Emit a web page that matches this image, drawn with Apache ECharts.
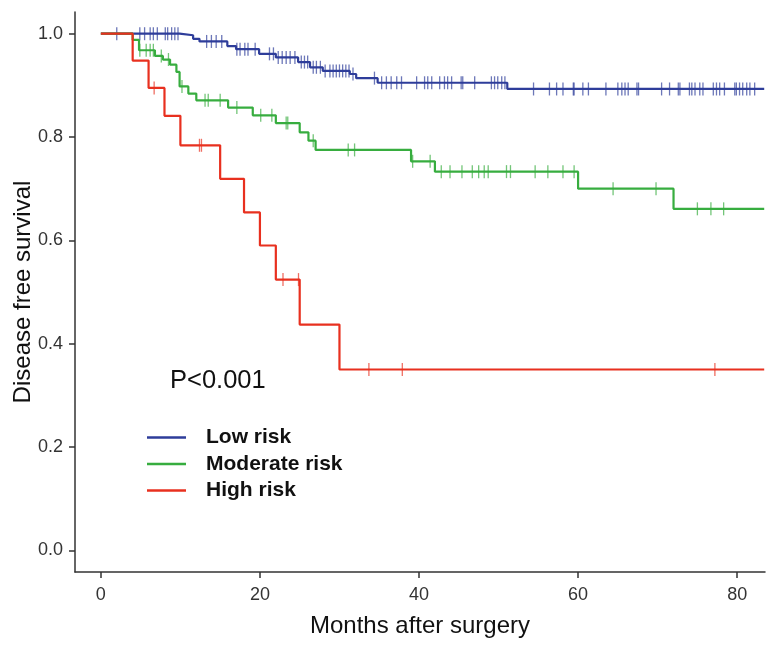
<!DOCTYPE html>
<html>
<head>
<meta charset="utf-8">
<script src="https://cdn.jsdelivr.net/npm/echarts@6/dist/echarts.min.js"></script>
<style>
  html, body { margin: 0; padding: 0; background: #fff; }
  #chart { width: 777px; height: 650px; }
</style>
</head>
<body>
<div id="chart"></div>
<script>
var FONT = 'Liberation Sans, Arial, sans-serif';
var endTime = 83.4;

// Low risk
var lowTimes = [0, 9.9, 11.6, 12.4, 15.9, 17.0, 19.9, 22.0, 24.8, 26.3, 27.9, 31.3, 32.1, 34.8, 51.1];
var lowSurv = [1.0, 0.997, 0.990, 0.985, 0.976, 0.970, 0.961, 0.954, 0.945, 0.935, 0.928, 0.922, 0.914, 0.905, 0.893];
var lowCensor = [2.0, 4.9, 5.5, 6.2, 6.6, 7.1, 8.1, 8.4, 8.9, 9.3, 9.7, 13.3, 13.9, 14.5, 15.2,
    17.1, 17.5, 18.1, 18.5, 19.4, 21.2, 21.7, 22.3, 22.8, 23.3, 23.8, 24.4, 25.2, 25.6, 26.0,
    26.7, 27.1, 27.6, 28.2, 28.8, 29.2, 29.6, 30.0, 30.4, 30.8, 31.2, 31.7, 34.4, 35.3, 35.9,
    36.5, 37.2, 37.8, 39.7, 40.7, 41.1, 41.6, 42.6, 43.2, 43.6, 44.1, 45.3, 45.5, 47.0, 49.1,
    49.5, 49.9, 50.4, 50.8, 54.4, 56.4, 57.3, 58.1, 59.4, 59.5, 60.6, 61.3, 63.5, 65.0, 65.5,
    65.9, 66.3, 67.4, 67.6, 70.5, 71.5, 72.6, 72.8, 74.0, 74.3, 74.7, 75.3, 75.7, 77.0, 77.4,
    77.8, 78.4, 79.7, 79.9, 80.3, 80.7, 81.2, 81.6, 82.2];

// Moderate risk
var modTimes = [0, 4.0, 4.8, 6.8, 7.8, 8.7, 9.5, 9.9, 11.0, 12.0, 16.0, 19.1, 22.0, 25.0, 26.1, 27.0, 39.0, 42.0, 60.0, 72.0];
var modSurv = [1.0, 0.988, 0.968, 0.957, 0.950, 0.940, 0.926, 0.898, 0.884, 0.871, 0.857, 0.842, 0.827, 0.809, 0.793, 0.775, 0.753, 0.733, 0.700, 0.661];
var modCensor = [4.9, 5.7, 6.2, 6.6, 7.6, 8.5, 10.2, 13.1, 13.5, 15.0, 17.1, 20.1, 21.5, 23.3, 23.5,
    26.7, 31.1, 31.9, 39.2, 41.4, 42.8, 43.9, 45.4, 46.7, 47.5, 48.2, 48.7, 51.0, 51.5, 54.6,
    56.2, 58.1, 59.5, 64.4, 69.8, 75.0, 76.7, 78.3];

// High risk
var highTimes = [0, 4.0, 6.0, 8.0, 10.0, 15.0, 18.0, 20.0, 22.0, 25.0, 30.0];
var highSurv = [1.0, 0.948, 0.895, 0.841, 0.784, 0.719, 0.654, 0.590, 0.524, 0.437, 0.350];
var highCensor = [6.7, 12.4, 12.65, 22.9, 24.85, 33.7, 37.9, 77.2];

var xTicks = [0, 20, 40, 60, 80];
var yTicks = [0, 0.2, 0.4, 0.6, 0.8, 1.0];

var colors = { low: '#2e3d9a', mod: '#37ad3f', high: '#e8301f' };

function stepAt(times, surv, t) {
    var v = surv[0];
    for (var i = 0; i < times.length; i++) {
        if (times[i] <= t) v = surv[i];
    }
    return v;
}
function curve(times, surv) {
    var d = times.map(function (t, i) { return [t, surv[i]]; });
    d.push([endTime, surv[surv.length - 1]]);
    return d;
}
function marks(times, surv, cens) {
    return cens.map(function (t) { return [t, stepAt(times, surv, t)]; });
}
function lineSeries(name, color, times, surv, z) {
    return {
        name: name, type: 'line', step: 'end', showSymbol: false, symbol: 'none',
        data: curve(times, surv), z: z,
        lineStyle: { color: color, width: 2.2 }, itemStyle: { color: color }
    };
}
function censorSeries(name, color, times, surv, cens, z) {
    return {
        name: name + ' censor', type: 'scatter', symbol: 'rect', symbolSize: [1.3, 13],
        data: marks(times, surv, cens), z: z,
        itemStyle: { color: color, opacity: 0.7 }
    };
}

var chart = echarts.init(document.getElementById('chart'));
chart.setOption({
    animation: false,
    grid: { left: 75, right: 12, top: 12, bottom: 78, outerBoundsMode: 'none', containLabel: false },
    xAxis: {
        type: 'value', min: -3.25, max: 83.5,
        name: 'Months after surgery', nameLocation: 'middle', nameGap: 42, nameMoveOverlap: false,
        nameTextStyle: { fontFamily: FONT, fontSize: 24, color: '#111' },
        axisLine: { show: true, onZero: false, lineStyle: { color: '#333', width: 1.5 } },
        axisTick: { show: true, length: 6, lineStyle: { color: '#333', width: 1.5 }, customValues: xTicks },
        axisLabel: { fontFamily: FONT, fontSize: 18, color: '#333', margin: 14, customValues: xTicks },
        splitLine: { show: false }
    },
    yAxis: {
        type: 'value', min: -0.042, max: 1.042,
        name: 'Disease free survival', nameLocation: 'middle', nameGap: 40, nameMoveOverlap: false,
        nameTextStyle: { fontFamily: FONT, fontSize: 24, color: '#111' },
        axisLine: { show: true, onZero: false, lineStyle: { color: '#333', width: 1.5 } },
        axisTick: { show: true, length: 6, lineStyle: { color: '#333', width: 1.5 }, customValues: yTicks },
        axisLabel: {
            fontFamily: FONT, fontSize: 18, color: '#333', margin: 12, customValues: yTicks,
            formatter: function (v) { return v.toFixed(1); }
        },
        splitLine: { show: false }
    },
    legend: {
        orient: 'vertical', left: 142, top: 422, itemGap: 5.5,
        icon: 'rect', itemWidth: 39, itemHeight: 2.5,
        data: ['Low risk', 'Moderate risk', 'High risk'],
        textStyle: { fontFamily: FONT, fontSize: 21, fontWeight: 'bold', color: '#111', lineHeight: 21, padding: [0, 0, 0, 15] }
    },
    graphic: [{
        type: 'text', left: 170, top: 368,
        style: { text: 'P<0.001', font: '25.5px ' + FONT, fill: '#111' }
    }],
    series: [
        lineSeries('Low risk', colors.low, lowTimes, lowSurv, 2),
        censorSeries('Low risk', colors.low, lowTimes, lowSurv, lowCensor, 2),
        lineSeries('Moderate risk', colors.mod, modTimes, modSurv, 3),
        censorSeries('Moderate risk', colors.mod, modTimes, modSurv, modCensor, 3),
        lineSeries('High risk', colors.high, highTimes, highSurv, 4),
        censorSeries('High risk', colors.high, highTimes, highSurv, highCensor, 4)
    ]
});
</script>
</body>
</html>
